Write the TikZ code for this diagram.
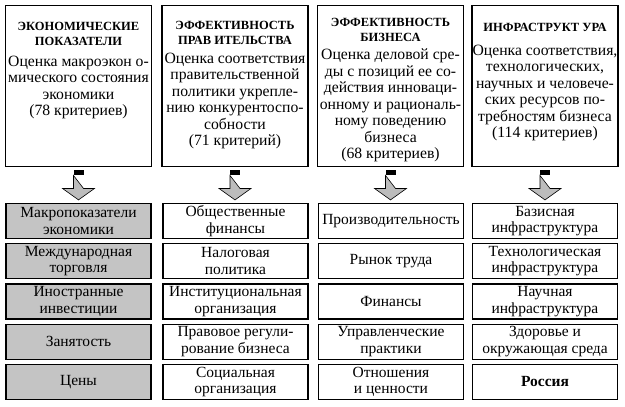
\documentclass[tikz,border=0pt]{standalone}
\usepackage{fontspec}
\setmainfont{Liberation Serif}
\usetikzlibrary{positioning,calc}
\definecolor{cellgrey}{RGB}{196,196,196}
\definecolor{arrowgrey}{RGB}{188,188,188}
\tikzset{
  topbox/.style={draw, line width=1.9pt, minimum width=146pt, minimum height=161pt, inner sep=0pt},
  ttl/.style={font=\fontsize{12.5}{15}\selectfont\bfseries, align=center, inner sep=0pt, anchor=north},
  descr/.style={font=\fontsize{15.7}{16.5}\selectfont, align=center, inner sep=0pt},
  cell/.style={draw, line width=1.2pt, minimum width=145pt, minimum height=35pt, inner sep=0pt, align=center, font=\fontsize{15.5}{16.5}\selectfont},
  greycell/.style={cell, fill=cellgrey},
  blockarrow/.style={draw, line width=0.6pt, fill=arrowgrey},
}
\begin{document}
\begin{tikzpicture}[x=1pt,y=-1pt]
        \useasboundingbox (0,0) rectangle (625,407);
        % upper boxes
        \node[topbox] (top1) at (78.5,86) {};
        \node[topbox] (top2) at (235,86) {};
        \node[topbox] (top3) at (390.5,86) {};
        \node[topbox] (top4) at (545,86) {};
        \node[ttl] (ttl1) at (78.5,22) {ЭКОНОМИЧЕСКИЕ\\ПОКАЗАТЕЛИ};
        \node[ttl] (ttl2) at (235,21) {ЭФФЕКТИВНОСТЬ\\ПРАВ ИТЕЛЬСТВА};
        \node[ttl] (ttl3) at (390.5,18) {ЭФФЕКТИВНОСТЬ\\БИЗНЕСА};
        \node[ttl] (ttl4) at (545,23) {ИНФРАСТРУКТ УРА};
        \node[descr, below=10pt of ttl1] (txt1) {Оценка макроэкон о-\\мического состояния\\экономики\\(78 критериев)};
        \node[descr, below=8pt of ttl2] (txt2) {Оценка соответствия\\правительственной\\политики укрепле-\\нию конкурентоспо-\\собности\\(71 критерий)};
        \node[descr, below=7pt of ttl3] (txt3) {Оценка деловой сре-\\ды с позиций ее со-\\действия инноваци-\\онному и рациональ-\\ному поведению\\бизнеса\\(68 критериев)};
        \node[descr, below=13pt of ttl4] (txt4) {Оценка соответствия,\\технологических,\\научных и человече-\\ских ресурсов по-\\требностям бизнеса\\(114 критериев)};
        % lower boxes
        \node[greycell] (c11) at (78.5,221) {Макропоказатели\\экономики};
        \node[greycell, below=4pt of c11] (c12) {Международная\\торговля};
        \node[greycell, below=4pt of c12] (c13) {Иностранные\\инвестиции};
        \node[greycell, below=4pt of c13] (c14) {Занятость};
        \node[greycell, below=4pt of c14] (c15) {Цены};
        \node[cell] (c21) at (235.5,221) {Общественные\\финансы};
        \node[cell, below=4pt of c21] (c22) {Налоговая\\политика};
        \node[cell, below=4pt of c22] (c23) {Институциональная\\организация};
        \node[cell, below=4pt of c23] (c24) {Правовое регули-\\рование бизнеса};
        \node[cell, below=4pt of c24] (c25) {Социальная\\организация};
        \node[cell] (c31) at (391,221) {Производительность};
        \node[cell, below=4pt of c31] (c32) {Рынок труда};
        \node[cell, below=4pt of c32] (c33) {Финансы};
        \node[cell, below=4pt of c33] (c34) {Управленческие\\практики};
        \node[cell, below=4pt of c34] (c35) {Отношения\\и ценности};
        \node[cell] (c41) at (545,221) {Базисная\\инфраструктура};
        \node[cell, below=4pt of c41] (c42) {Технологическая\\инфраструктура};
        \node[cell, below=4pt of c42] (c43) {Научная\\инфраструктура};
        \node[cell, below=4pt of c43] (c44) {Здоровье и\\окружающая среда};
        \node[cell, below=4pt of c44] (c45) {\bfseries Россия};
        % block arrows
        \foreach \i in {1,...,4}{
            \fill ($(top\i.south)+(-5,3)$) rectangle ($(top\i.south)+(5,8)$);
            \draw[blockarrow] ($(top\i.south)+(-5,8)$) -- ($(top\i.south)+(-5,21)$) -- ($(top\i.south)+(-16,21)$)
                -- ($(top\i.south |- c\i1.north)+(0,-3)$) -- ($(top\i.south)+(16,21)$) -- ($(top\i.south)+(5,21)$) -- cycle;
        }
\end{tikzpicture}
\end{document}
